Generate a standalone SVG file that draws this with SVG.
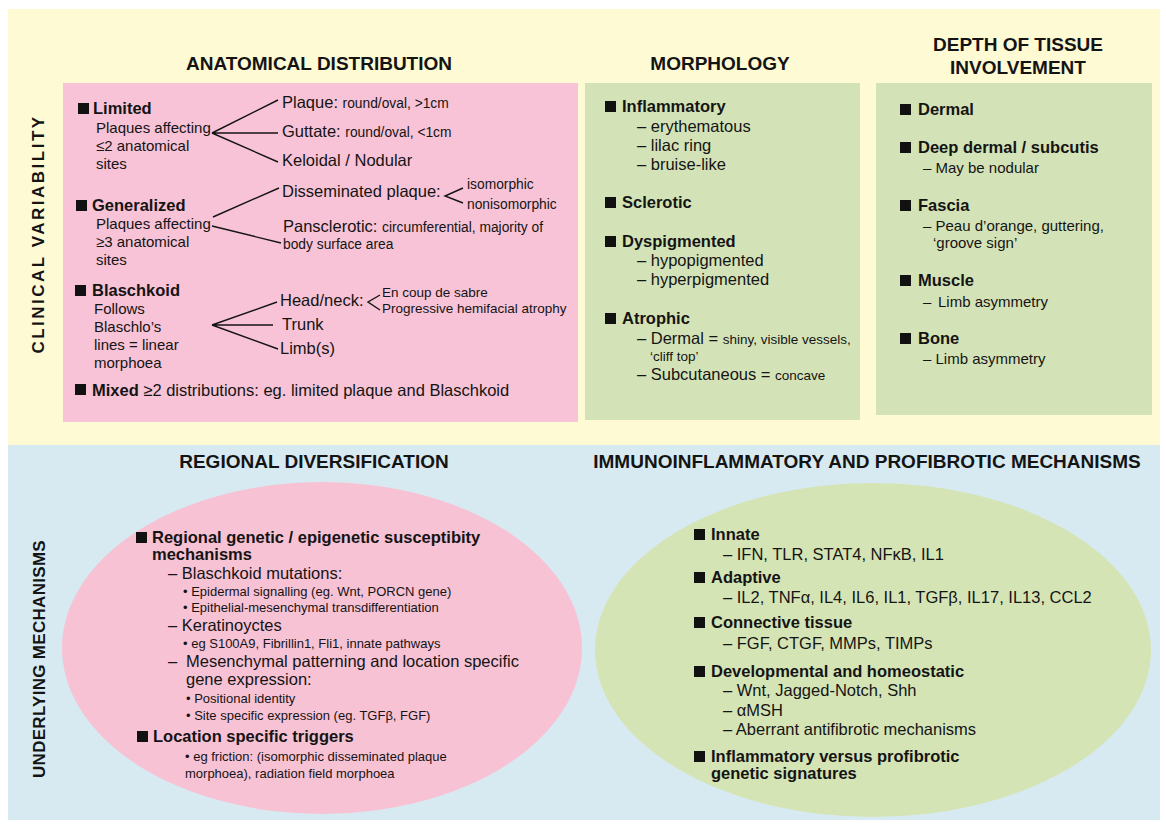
<svg xmlns="http://www.w3.org/2000/svg" width="1166" height="827" viewBox="0 0 1166 827">
<style>
text{font-family:"Liberation Sans",Arial,Helvetica,sans-serif;fill:#141414}
.h{font-size:19px;font-weight:bold}
.v1{font-size:17px;font-weight:bold;letter-spacing:2.5px}
.v2{font-size:17px;font-weight:bold;letter-spacing:0.3px}
.b{font-size:16.5px;font-weight:bold}
.t{font-size:15px}
.m{font-size:16.5px}
.s{font-size:13.5px}
.sa{font-size:13.8px}
.xs{font-size:13px}
.sq{fill:#111}
.ln{stroke:#141414;stroke-width:1.4;fill:none}
</style>
<defs>
<rect id="bul" width="11" height="11" class="sq"/>
</defs>
<g id="backgrounds">
<rect x="8" y="9" width="1152" height="436" fill="#FEFAD4"/>
<rect x="8" y="445" width="1152" height="375" fill="#D7EAF1"/>
</g>
<g id="labels">
<text class="v1" transform="translate(44,234) rotate(-90)" text-anchor="middle">CLINICAL VARIABILITY</text>
<text class="v2" transform="translate(45,659) rotate(-90)" text-anchor="middle">UNDERLYING MECHANISMS</text>
<text class="h" x="319" y="70" text-anchor="middle">ANATOMICAL DISTRIBUTION</text>
<text class="h" x="720" y="70" text-anchor="middle">MORPHOLOGY</text>
<text class="h" x="1018" y="51" text-anchor="middle">DEPTH OF TISSUE</text>
<text class="h" x="1018" y="74" text-anchor="middle">INVOLVEMENT</text>
<text class="h" x="314" y="468" text-anchor="middle">REGIONAL DIVERSIFICATION</text>
<text class="h" x="867" y="468" text-anchor="middle">IMMUNOINFLAMMATORY AND PROFIBROTIC MECHANISMS</text>
</g>
<g id="anatomical">
<rect x="63" y="83" width="515" height="339" fill="#F8C3D6"/>
<use href="#bul" x="78" y="103"/>
<text class="b" x="93" y="114">Limited</text>
<text class="t" x="96" y="133">Plaques affecting</text>
<text class="t" x="96" y="151">≤2 anatomical</text>
<text class="t" x="96" y="169">sites</text>
<text class="m" x="282" y="108">Plaque: <tspan class="sa">round/oval, &gt;1cm</tspan></text>
<text class="m" x="282" y="137">Guttate: <tspan class="sa">round/oval, &lt;1cm</tspan></text>
<text class="m" x="282" y="166">Keloidal / Nodular</text>
<use href="#bul" x="76" y="200"/>
<text class="b" x="92" y="211">Generalized</text>
<text class="t" x="96" y="229">Plaques affecting</text>
<text class="t" x="96" y="247">≥3 anatomical</text>
<text class="t" x="96" y="265">sites</text>
<text class="m" x="282" y="197">Disseminated plaque:</text>
<text class="sa" x="467" y="189">isomorphic</text>
<text class="sa" x="467" y="209">nonisomorphic</text>
<text class="m" x="283" y="232">Pansclerotic: <tspan class="sa">circumferential, majority of</tspan></text>
<text class="sa" x="283" y="249">body surface area</text>
<use href="#bul" x="75" y="285"/>
<text class="b" x="92" y="296">Blaschkoid</text>
<text class="t" x="94" y="314">Follows</text>
<text class="t" x="94" y="332">Blaschlo’s</text>
<text class="t" x="94" y="350">lines = linear</text>
<text class="t" x="94" y="368">morphoea</text>
<text class="m" x="280" y="306">Head/neck:</text>
<text class="m" x="282" y="330">Trunk</text>
<text class="m" x="280" y="354">Limb(s)</text>
<text class="s" x="382" y="297">En coup de sabre</text>
<text class="s" x="382" y="313">Progressive hemifacial atrophy</text>
<use href="#bul" x="75" y="384"/>
<text class="m" x="92" y="396"><tspan class="b">Mixed</tspan> ≥2 distributions: eg. limited plaque and Blaschkoid</text>
</g>
<g id="morphology">
<rect x="585" y="83" width="275" height="337" fill="#D4E3B7"/>
<use href="#bul" x="605" y="101"/>
<text class="b" x="622" y="112">Inflammatory</text>
<text class="m" x="637" y="132">– erythematous</text>
<text class="m" x="637" y="151">– lilac ring</text>
<text class="m" x="637" y="170">– bruise-like</text>
<use href="#bul" x="605" y="197"/>
<text class="b" x="622" y="208">Sclerotic</text>
<use href="#bul" x="605" y="236"/>
<text class="b" x="622" y="247">Dyspigmented</text>
<text class="m" x="637" y="266">– hypopigmented</text>
<text class="m" x="637" y="285">– hyperpigmented</text>
<use href="#bul" x="605" y="313"/>
<text class="b" x="622" y="324">Atrophic</text>
<text class="m" x="637" y="344">– Dermal = <tspan class="s">shiny, visible vessels,</tspan></text>
<text class="s" x="650" y="361">‘cliff top’</text>
<text class="m" x="637" y="380">– Subcutaneous = <tspan class="s">concave</tspan></text>
</g>
<g id="depth">
<rect x="876" y="83" width="276" height="332" fill="#D4E3B7"/>
<use href="#bul" x="900" y="104"/>
<text class="b" x="918" y="115">Dermal</text>
<use href="#bul" x="900" y="142"/>
<text class="b" x="918" y="153">Deep dermal / subcutis</text>
<text class="t" x="923" y="173">– May be nodular</text>
<use href="#bul" x="900" y="200"/>
<text class="b" x="918" y="211">Fascia</text>
<text class="t" x="923" y="231">– Peau d’orange, guttering,</text>
<text class="t" x="933" y="248">‘groove sign’</text>
<use href="#bul" x="900" y="275"/>
<text class="b" x="918" y="286">Muscle</text>
<text class="t" x="923" y="307">–<tspan x="938">Limb asymmetry</tspan></text>
<use href="#bul" x="900" y="333"/>
<text class="b" x="918" y="344">Bone</text>
<text class="t" x="923" y="364">– Limb asymmetry</text>
</g>
<g id="regional">
<ellipse cx="322" cy="648" rx="260" ry="166" fill="#F8C2D5"/>
<use href="#bul" x="136" y="532"/>
<text class="b" x="152" y="543">Regional genetic / epigenetic susceptibity</text>
<text class="b" x="152" y="560">mechanisms</text>
<text class="m" x="168" y="579">– Blaschkoid mutations:</text>
<text class="xs" x="183" y="596">• Epidermal signalling (eg. Wnt, PORCN gene)</text>
<text class="xs" x="183" y="612">• Epithelial-mesenchymal transdifferentiation</text>
<text class="m" x="168" y="631">– Keratinoyctes</text>
<text class="xs" x="183" y="648">• eg S100A9, Fibrillin1, Fli1, innate pathways</text>
<text class="m" x="168" y="667">–<tspan x="186">Mesenchymal patterning and location specific</tspan></text>
<text class="m" x="186" y="685">gene expression:</text>
<text class="xs" x="186" y="703">• Positional identity</text>
<text class="xs" x="186" y="720">• Site specific expression (eg. TGFβ, FGF)</text>
<use href="#bul" x="137" y="731"/>
<text class="b" x="153" y="742">Location specific triggers</text>
<text class="xs" x="185" y="761">• eg friction: (isomorphic disseminated plaque</text>
<text class="xs" x="185" y="778">morphoea), radiation field morphoea</text>
</g>
<g id="immuno">
<ellipse cx="873" cy="650" rx="278" ry="167" fill="#D5E4B5"/>
<use href="#bul" x="694" y="529"/>
<text class="b" x="711" y="540">Innate</text>
<text class="m" x="723" y="560">– IFN, TLR, STAT4, NFκB, IL1</text>
<use href="#bul" x="694" y="572"/>
<text class="b" x="711" y="583">Adaptive</text>
<text class="m" x="723" y="603">– IL2, TNFα, IL4, IL6, IL1, TGFβ, IL17, IL13, CCL2</text>
<use href="#bul" x="694" y="617"/>
<text class="b" x="711" y="628">Connective tissue</text>
<text class="m" x="723" y="649">– FGF, CTGF, MMPs, TIMPs</text>
<use href="#bul" x="694" y="666"/>
<text class="b" x="711" y="677">Developmental and homeostatic</text>
<text class="m" x="723" y="696">– Wnt, Jagged-Notch, Shh</text>
<text class="m" x="723" y="716">– αMSH</text>
<text class="m" x="723" y="735">– Aberrant antifibrotic mechanisms</text>
<use href="#bul" x="694" y="751"/>
<text class="b" x="711" y="762">Inflammatory versus profibrotic</text>
<text class="b" x="711" y="779">genetic signatures</text>
</g>
<g id="connectors">
<path class="ln" d="M212,133 L278,100 M212,133 L278,133 M212,133 L278,162"/>
<path class="ln" d="M213,217 L279,188 M212,226 L281,243"/>
<path class="ln" d="M463,188 L445,196 L463,203"/>
<path class="ln" d="M212,325 L277,302 M212,325 L273,325 M212,325 L278,349"/>
<path class="ln" d="M380,295 L368,302 L380,310"/>
</g>
</svg>
